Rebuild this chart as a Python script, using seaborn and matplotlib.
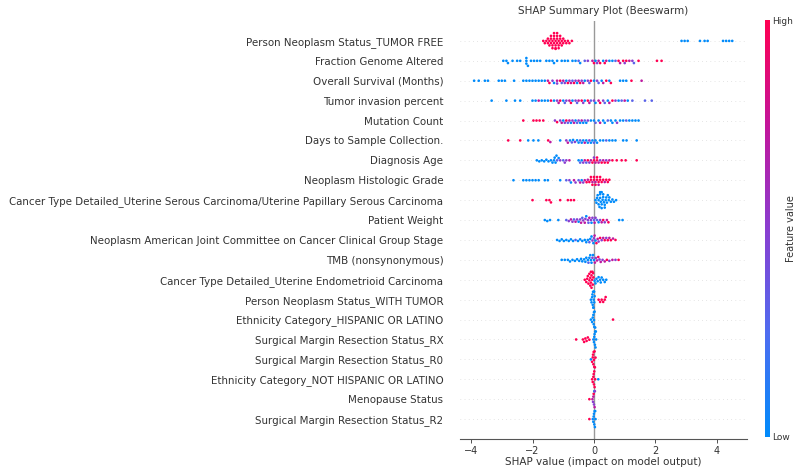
import numpy as np
import pandas as pd
import matplotlib
matplotlib.use("Agg")
import matplotlib.pyplot as plt
import seaborn as sns
from matplotlib.colors import LinearSegmentedColormap, Normalize
import matplotlib.colorbar as mcolorbar

features = [
    "Person Neoplasm Status_TUMOR FREE",
    "Fraction Genome Altered",
    "Overall Survival (Months)",
    "Tumor invasion percent",
    "Mutation Count",
    "Days to Sample Collection.",
    "Diagnosis Age",
    "Neoplasm Histologic Grade",
    "Cancer Type Detailed_Uterine Serous Carcinoma/Uterine Papillary Serous Carcinoma",
    "Patient Weight",
    "Neoplasm American Joint Committee on Cancer Clinical Group Stage",
    "TMB (nonsynonymous)",
    "Cancer Type Detailed_Uterine Endometrioid Carcinoma",
    "Person Neoplasm Status_WITH TUMOR",
    "Ethnicity Category_HISPANIC OR LATINO",
    "Surgical Margin Resection Status_RX",
    "Surgical Margin Resection Status_R0",
    "Ethnicity Category_NOT HISPANIC OR LATINO",
    "Menopause Status",
    "Surgical Margin Resection Status_R2",
]

# SHAP values per feature and feature-value level codes (b=low ... r=high)
v01 = [-1.65, -1.6, -1.55, -1.5, -1.5, -1.45, -1.45, -1.4, -1.4, -1.4, -1.35, -1.35, -1.35,
       -1.3, -1.3, -1.3, -1.3, -1.25, -1.25, -1.25, -1.25, -1.2, -1.2, -1.2, -1.2, -1.15, -1.15,
       -1.15, -1.1, -1.1, -1.1, -1.05, -1.05, -1.0, -1.0, -0.95, -0.9, -0.85, -0.8, -0.72,
       2.85, 2.95, 3.05, 3.45, 3.6, 3.7, 4.2, 4.3, 4.4, 4.5]
c01 = "rrrrrrrrrrrrrrrrrrrrrrrrrrrrrrrrrrrrrrrr" + "bbbbbbbbbb"

v02 = [-2.95, -2.85, -2.8, -2.65, -2.5, -2.4, -2.2, -2.2, -2.2, -2.15, -2.05, -1.95, -1.85, -1.75,
       -1.55, -1.45, -1.35, -1.3, -1.2, -1.05, -0.95, -0.85, -0.7, -0.6, -0.5, -0.45, -0.3, -0.2,
       -0.05, 0.0, 0.05, 0.1, 0.15, 0.2, 0.3, 0.35, 0.4, 0.5, 0.6, 0.7, 0.8, 0.85, 0.95, 1.0, 1.05,
       1.15, 1.25, 1.3, 1.45, 2.05, 2.2]
c02 = "bbbbbbbbbbbbbbbbbbbbbbbbvbvp" + "mrbpmrbrmbbvrmrprmpvrrr"

v03 = [-3.9, -3.75, -3.55, -3.45, -3.1, -3.0, -2.9, -2.6, -2.3, -2.2, -2.1, -2.0, -1.9, -1.8, -1.7, -1.6,
       -1.5, -1.45, -1.35, -1.3, -1.2, -1.2, -1.1, -1.05, -1.0, -0.95, -0.9, -0.85, -0.8, -0.75, -0.7,
       -0.65, -0.6, -0.55, -0.5, -0.45, -0.4, -0.35, -0.3, -0.2, -0.15, -0.1, 0.0, 0.1, 0.15, 0.25, 0.3,
       0.4, 0.5, 0.55, 0.85, 0.95, 1.05, 1.22, 1.55]
c03 = "bbbbbbbbbbbbbbbb" + "mrpbmprvmp" + "brpmvrpbmr" + "pmbpvrbpvb" + "mrbrbbbrm"

v04 = [-3.33, -2.85, -2.57, -2.4, -2.0, -1.9, -1.8, -1.7, -1.6, -1.5, -1.4, -1.3,
       -1.2, -1.15, -1.1, -1.0, -0.95, -0.9, -0.8, -0.75, -0.7, -0.6, -0.55, -0.5, -0.4, -0.35, -0.3,
       -0.2, -0.15, -0.1, 0.0, 0.05, 0.15, 0.2, 0.3, 0.35, 0.45, 0.5, 0.6, 0.7, 0.8, 0.9, 1.0, 1.1,
       1.25, 1.66, 1.88]
c04 = "bbbbbbmbbbrb" + "pmrbvpmrbp" + "vmrpbrmvpb" + "mrpvbmrpbv" + "mbvvv"

v05 = [-2.3, -1.97, -1.87, -1.77, -1.65, -1.27, -1.2,
       -1.1, -1.05, -1.0, -0.95, -0.9, -0.85, -0.8, -0.75, -0.7, -0.65, -0.6, -0.55, -0.5, -0.45, -0.4,
       -0.35, -0.3, -0.25, -0.2, -0.1, 0.0, 0.05, 0.15, 0.2, 0.3, 0.35, 0.45, 0.55, 0.6, 0.7, 0.75, 0.85,
       0.95, 1.05, 1.15, 1.25, 1.35, 1.45]
c05 = "rrrrrpr" + "pmbprvmbpm" + "bvpbmbvbpb" + "bvbmbbvbbb" + "pbbvbbbb"

v06 = [-2.79, -2.4, -2.14, -1.97, -1.81, -1.49, -1.42, -1.1, -0.9, -0.85,
       -0.78, -0.72, -0.68, -0.62, -0.55, -0.5, -0.45, -0.4, -0.35, -0.3, -0.25, -0.2, -0.15, -0.1,
       -0.05, 0.0, 0.05, 0.1, 0.2, 0.3, 0.4, 0.5, 0.6, 0.7, 0.95, 1.06, 1.39]
c06 = "rrbbbrmbpm" + "bvbpbbvbbm" + "bbpbbvbbbb" + "vbbbbbb"

v07 = [-1.86, -1.78, -1.7, -1.62, -1.55, -1.48, -1.4, -1.35, -1.3, -1.28, -1.25, -1.22, -1.2, -1.15,
       -1.1, -1.0, -0.95, -0.9, -0.8,
       -0.5, -0.45, -0.4, -0.35, -0.3, -0.25, -0.2, -0.15, -0.1, -0.05, 0.0, 0.0, 0.05, 0.1, 0.1, 0.15,
       0.2, 0.25, 0.3, 0.35, 0.4, 0.45, 0.5, 0.6, 0.74, 0.9, 1.03, 1.39]
c07 = "bbbbbbbbbbbbvbpvppm" + "bvbpmvrpmr" + "rpmrrmprmr" + "prmrrrrr"

v08 = [-2.62, -2.3, -2.2, -2.1, -2.0, -1.9, -1.8, -1.6, -1.5, -1.1,
       -0.9, -0.8, -0.75, -0.65, -0.6, -0.5, -0.45, -0.4, -0.35, -0.3,
       -0.24, -0.2, -0.15, -0.1, -0.1, -0.05, -0.05, 0.0, 0.0, 0.05, 0.05, 0.1, 0.1, 0.15, 0.15, 0.2,
       0.2, 0.25, 0.3, 0.35, 0.4, 0.45, 0.5]
c08 = "bbbbbbbbbb" + "vpbmpvmbpm" + "rmrrrmrrrm" + "rrrrmrrrrm" + "rrr"

v09 = [-2.0, -1.55, -1.45, -1.4, -1.1, -0.85, -0.75, -0.65,
       0.05, 0.08, 0.1, 0.12, 0.15, 0.15, 0.18, 0.2, 0.2, 0.2, 0.22, 0.25, 0.25, 0.25, 0.28, 0.3, 0.3,
       0.32, 0.35, 0.35, 0.38, 0.4, 0.42, 0.45, 0.48, 0.5, 0.55, 0.6, 0.65, 0.72]
c09 = "rrrrrrrr" + "bbbbbbbbbbbbbbbbbbbbbbbbbbbbbb"

v10 = [-1.6, -1.52, -1.43, -1.16, -0.9, -0.82, -0.75, -0.7, -0.65, -0.6, -0.55, -0.5, -0.45, -0.42,
       -0.38, -0.35, -0.3, -0.28, -0.25, -0.2, -0.18, -0.15, -0.1, -0.08, -0.05, 0.0, 0.02, 0.05, 0.1,
       0.15, 0.2, 0.25, 0.3, 0.35, 0.42, 0.47, 0.82, 0.93]
c10 = "bbbbvpmpvm" + "pbpmvpmpbp" + "vmpbpvmpvb" + "pmrpmrbb"

v11 = [-1.2, -1.12, -1.05, -0.98, -0.9, -0.82, -0.75, -0.68, -0.6, -0.52, -0.45, -0.38, -0.3, -0.25,
       -0.2, -0.15, -0.12, -0.08, -0.05, -0.02, 0.0, 0.02, 0.05, 0.08, 0.12, 0.15, 0.2, 0.25, 0.3, 0.35,
       0.4, 0.45, 0.5, 0.55, 0.62, 0.7]
c11 = "bbbbbbbbvbbbbbbvbbpb" + "pmbrmprpmrprmrmr"

v12 = [-1.05, -0.95, -0.85, -0.78, -0.7, -0.62, -0.55, -0.48, -0.42, -0.38, -0.32, -0.28, -0.25, -0.2,
       -0.18, -0.15, -0.12, -0.1, -0.08, -0.05, -0.03, 0.0,
       0.03, 0.06, 0.1, 0.14, 0.18, 0.22, 0.28, 0.35, 0.42, 0.5, 0.6, 0.7, 0.8]
c12 = "bbbbbbbbbbbbbbvbbbbpbb" + "mpmrpmpmrpmpr"

v13 = [-0.3, -0.25, -0.22, -0.2, -0.18, -0.15, -0.15, -0.12, -0.12, -0.1, -0.1, -0.08, -0.08, -0.06,
       -0.05, -0.04, -0.03, -0.02,
       0.02, 0.05, 0.08, 0.12, 0.15, 0.2, 0.22, 0.25, 0.3, 0.35, 0.4]
c13 = "rrrrrrrrrrrrrrrrrr" + "bbbbbbbbbbb"

v14 = [-0.1, -0.08, -0.06, -0.05, -0.04, -0.03, -0.02, -0.02, -0.01, 0.0, 0.0, 0.01, 0.02,
       0.15, 0.2, 0.25, 0.3, 0.35, 0.38]
c14 = "bbbbbbbbbbbbb" + "rrrrrr"

v15 = [-0.1, -0.06, -0.04, -0.02, -0.01, 0.0, 0.0, 0.01, 0.02, 0.04, 0.62]
c15 = "bbbbbbbbbb" + "r"

v16 = [-0.58, -0.36, -0.32, -0.28, -0.24, -0.2, -0.15,
       -0.02, 0.0, 0.01, 0.02, 0.03, 0.04, 0.05, 0.06, 0.07]
c16 = "rrrrrrr" + "bbbbbbbbb"

v17 = [-0.1, -0.06, -0.04, -0.03, -0.02, -0.01, 0.0, 0.01, 0.02, 0.03, 0.05]
c17 = "b" + "rrrrrrrrrr"

v18 = [-0.06, -0.04, -0.02, -0.01, 0.0, 0.01, 0.02, 0.04, 0.14]
c18 = "rrrrrrrr" + "b"

v19 = [-0.15, -0.05, -0.03, -0.02, -0.01, 0.0, 0.01, 0.02, 0.03]
c19 = "r" + "mpmrpbmp"

v20 = [-0.15, -0.04, -0.02, -0.01, 0.0, 0.01, 0.02, 0.03, 0.04, 0.05]
c20 = "r" + "bbbbbbbbb"

shap_rows = [v01, v02, v03, v04, v05, v06, v07, v08, v09, v10,
             v11, v12, v13, v14, v15, v16, v17, v18, v19, v20]
code_rows = [c01, c02, c03, c04, c05, c06, c07, c08, c09, c10,
             c11, c12, c13, c14, c15, c16, c17, c18, c19, c20]
level = {"b": 0.0, "v": 0.3, "p": 0.5, "m": 0.72, "r": 1.0}

records = []
for name, vals, codes in zip(features, shap_rows, code_rows):
    if len(vals) != len(codes):
        print("length mismatch", name, len(vals), len(codes))
    for v, c in zip(vals, codes):
        records.append((name, v, level[c]))
df = pd.DataFrame(records, columns=["feature", "shap", "fval"])

red_blue = LinearSegmentedColormap.from_list(
    "red_blue", ["#008bfb", "#4f6cf0", "#8a3dd0", "#c3159a", "#ff0052"])

W, H = 802, 470
fig = plt.figure(figsize=(W / 100, H / 100), dpi=100)
ax = fig.add_axes([460 / W, (H - 439) / H, 287 / W, 418 / H])

for i in range(len(features)):
    ax.axhline(i, color="#cccccc", lw=0.5, dashes=(1, 5), zorder=-1)
ax.axvline(0, color="#999999", lw=1, zorder=-1)

sns.swarmplot(data=df, x="shap", y="feature", hue="fval", order=features,
              palette=red_blue, hue_norm=(0, 1), size=1.9, linewidth=0,
              orient="h", legend=False, ax=ax, zorder=3, warn_thresh=1.0)

ax.set_xlim(-4.36, 4.98)
ax.set_ylim(20, -1)
for s in ["left", "top", "right"]:
    ax.spines[s].set_visible(False)
ax.spines["bottom"].set_color("#555555")
ax.set_xticks([-4, -2, 0, 2, 4])
ax.tick_params(axis="x", colors="#333333", labelsize=7, length=3, width=0.6, pad=2)
ax.tick_params(axis="y", length=0, labelsize=7.4, labelcolor="#333333", pad=12)
ax.set_ylabel("")
ax.set_xlabel("SHAP value (impact on model output)", fontsize=7.5, color="#333333", labelpad=1)
ax.set_title("SHAP Summary Plot (Beeswarm)", fontsize=7.5, color="#333333", pad=5)

cax = fig.add_axes([765 / W, (H - 437) / H, 4.5 / W, 417 / H])
cb = mcolorbar.ColorbarBase(cax, cmap=red_blue, norm=Normalize(0, 1))
cb.outline.set_visible(False)
cb.set_ticks([0, 1])
cb.set_ticklabels(["Low", "High"])
cax.tick_params(length=0, labelsize=6.5, labelcolor="#333333", pad=2)
cb.set_label("Feature value", fontsize=7, color="#333333", labelpad=-5)

fig.savefig("out.png", dpi=100)
